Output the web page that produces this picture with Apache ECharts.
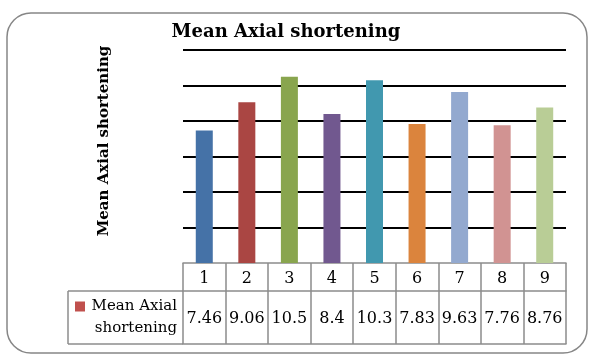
<!DOCTYPE html>
<html>
<head>
<meta charset="utf-8">
<script src="https://cdn.jsdelivr.net/npm/echarts@6/dist/echarts.min.js"></script>
<style>
  html, body { margin: 0; padding: 0; background: #fff; }
  #chart { width: 593px; height: 363px; }
</style>
</head>
<body>
<div id="chart"></div>
<script>
// Sample numbers along the x axis
const categories = ['1', '2', '3', '4', '5', '6', '7', '8', '9'];
// Mean axial shortening for each sample
const values = [7.46, 9.06, 10.5, 8.4, 10.3, 7.83, 9.63, 7.76, 8.76];
// One fill per bar (varied colours)
const barColors = ['#4572A7', '#AA4643', '#89A54E', '#71588F', '#4198AF',
                   '#DB843D', '#93A9CF', '#D19392', '#B9CD96'];
const seriesName = 'Mean Axial shortening';
// The series name is wrapped over two lines in the data table's header cell
const nameLines = ['Mean Axial', 'shortening'];

const FONT = '"DejaVu Serif", "Liberation Serif", serif';
const TABLE_LINE = '#8c8c8c';

const chart = echarts.init(document.getElementById('chart'), null, { renderer: 'canvas' });

const gridLeft = 183, gridTop = 50, gridWidth = 383, gridHeight = 213;
const gridBottomY = gridTop + gridHeight;   // 263
const rowSplitY = 291;                      // between category row and value row
const tableBottomY = 344;
const tableLeftX = 68;

chart.setOption({
  backgroundColor: '#fff',
  animation: false,
  legend: {
    data: [seriesName],
    left: 75, top: 299,
    itemWidth: 10, itemHeight: 10, itemGap: 0,
    icon: 'rect',
    formatter: () => '{a|' + nameLines[0] + '}',
    textStyle: {
      fontFamily: FONT, fontSize: 15, color: '#000',
      rich: { a: { fontFamily: FONT, fontSize: 15, color: '#000', align: 'right', width: 87 } }
    },
    padding: 0
  },
  grid: { left: gridLeft, top: gridTop, width: gridWidth, height: gridHeight },
  xAxis: [
    {
      type: 'category', data: categories, position: 'bottom',
      axisLine: { lineStyle: { color: TABLE_LINE, width: 1.5 } },
      axisTick: { show: true, interval: 0, length: tableBottomY - gridBottomY,
                  lineStyle: { color: TABLE_LINE, width: 1.5 } },
      axisLabel: { interval: 0, margin: 8, fontFamily: FONT, fontSize: 16, color: '#000' }
    },
    {
      type: 'category', data: categories, position: 'bottom', offset: rowSplitY - gridBottomY,
      axisLine: { lineStyle: { color: TABLE_LINE, width: 1.5 } },
      axisTick: { show: false },
      axisLabel: {
        interval: 0, margin: 20, fontFamily: FONT, fontSize: 16, color: '#000',
        formatter: (v, i) => String(values[i])
      }
    },
    {
      type: 'category', data: categories, position: 'bottom', offset: tableBottomY - gridBottomY,
      axisLine: { lineStyle: { color: TABLE_LINE, width: 1.5 } },
      axisTick: { show: false }, axisLabel: { show: false }
    }
  ],
  yAxis: {
    type: 'value', min: 0, max: 12, interval: 2,
    axisLine: { show: false }, axisTick: { show: false }, axisLabel: { show: false },
    splitLine: { lineStyle: { color: ['transparent', '#000', '#000', '#000', '#000', '#000', '#000'], width: 2 } }
  },
  series: [{
    name: seriesName,
    type: 'bar',
    xAxisIndex: 0,
    barWidth: 17,
    itemStyle: { color: '#C0504D' },
    data: values.map((v, i) => ({ value: v, itemStyle: { color: barColors[i] } }))
  }],
  graphic: [
    {
      type: 'rect', silent: true,
      shape: { x: 7, y: 13, width: 580, height: 340, r: 24 },
      style: { fill: 'none', stroke: '#868686', lineWidth: 1.5 }
    },
    // chart title
    {
      type: 'text', x: 286, y: 32,
      style: {
        text: 'Mean Axial shortening', fontFamily: FONT, fontWeight: 'bold', fontSize: 18,
        fill: '#000', align: 'center', verticalAlign: 'middle'
      }
    },
    // value-axis title
    {
      type: 'text', x: 104, y: 141, rotation: Math.PI / 2,
      style: {
        text: 'Mean Axial shortening', fontFamily: FONT, fontWeight: 'bold', fontSize: 15,
        fill: '#000', align: 'center', verticalAlign: 'middle'
      }
    },
    // second line of the series name in the table header cell
    {
      type: 'text', x: 177, y: 328,
      style: {
        text: nameLines[1], fontFamily: FONT, fontSize: 15,
        fill: '#000', align: 'right', verticalAlign: 'middle'
      }
    },
    // left header cell of the value row
    { type: 'line', shape: { x1: tableLeftX, y1: rowSplitY, x2: gridLeft, y2: rowSplitY },
      style: { stroke: TABLE_LINE, lineWidth: 1.5 } },
    { type: 'line', shape: { x1: tableLeftX, y1: tableBottomY, x2: gridLeft, y2: tableBottomY },
      style: { stroke: TABLE_LINE, lineWidth: 1.5 } },
    { type: 'line', shape: { x1: tableLeftX, y1: rowSplitY, x2: tableLeftX, y2: tableBottomY },
      style: { stroke: TABLE_LINE, lineWidth: 1.5 } }
  ]
});
</script>
</body>
</html>
